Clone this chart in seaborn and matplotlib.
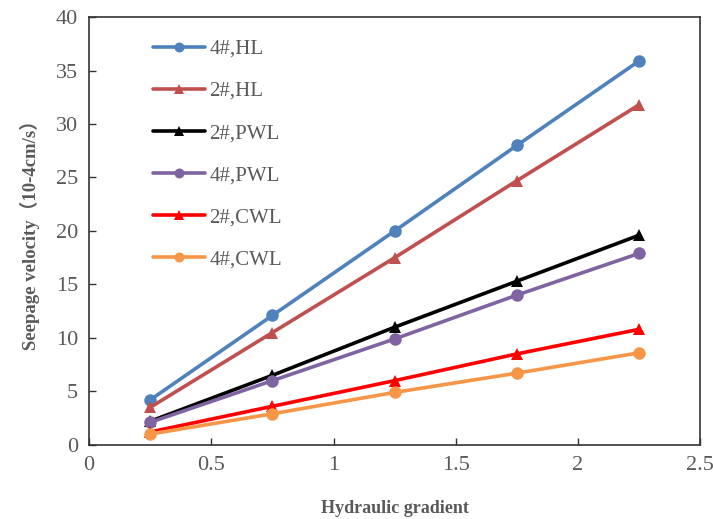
import pandas as pd
import numpy as np
import matplotlib.pyplot as plt
import seaborn as sns

gradient = [0.25, 0.75, 1.25, 1.75, 2.25]
series_names = ["4#,HL", "2#,HL", "2#,PWL", "4#,PWL", "2#,CWL", "4#,CWL"]
v_4_hl = [4.2, 12.1, 20.0, 28.0, 35.9]
v_2_hl = [3.5, 10.5, 17.5, 24.7, 31.8]
v_2_pwl = [2.2, 6.5, 11.0, 15.3, 19.6]
v_4_pwl = [2.1, 6.0, 9.9, 14.0, 17.9]
v_2_cwl = [1.2, 3.6, 6.0, 8.5, 10.8]
v_4_cwl = [1.0, 2.9, 4.9, 6.7, 8.6]

values = [v_4_hl, v_2_hl, v_2_pwl, v_4_pwl, v_2_cwl, v_4_cwl]
colors = ["#4F81BD", "#C0504D", "#000000", "#8064A2", "#FF0000", "#F79646"]
markers = ["o", "^", "^", "o", "^", "o"]

rows = []
for name, vals in zip(series_names, values):
    for x, y in zip(gradient, vals):
        rows.append({"gradient": x, "velocity": y, "series": name})
df = pd.DataFrame(rows)

sns.set_theme(style="white")
plt.rcParams["font.family"] = ["Liberation Serif", "Noto Sans CJK SC"]
grey = "#595959"

fig = plt.figure(figsize=(7.13, 5.19), dpi=100)
ax = fig.add_axes([0.125, 0.143, 0.857, 0.824])

sns.lineplot(data=df, x="gradient", y="velocity", hue="series", style="series",
             hue_order=series_names, style_order=series_names,
             palette=dict(zip(series_names, colors)),
             markers=dict(zip(series_names, markers)), dashes=False,
             linewidth=2.6, markersize=9, markeredgewidth=0, ax=ax)

ax.set_xlim(0, 2.5)
ax.set_ylim(0, 40)
ax.set_xticks(np.arange(0, 2.51, 0.5))
ax.set_xticklabels(["0", "0.5", "1", "1.5", "2", "2.5"])
ax.set_yticks(np.arange(0, 41, 5))
ax.tick_params(direction="in", length=5, width=1, colors="#333333",
               labelcolor=grey, labelsize=16, pad=8)
ax.tick_params(axis="x", top=False, bottom=True)
ax.tick_params(axis="y", left=True, right=False)
for s in ax.spines.values():
    s.set_color("#333333")
    s.set_linewidth(1.2)

ax.set_xlabel("Hydraulic gradient", fontsize=13, fontweight="bold", color=grey, labelpad=18)
ax.set_ylabel("Seepage velocity（10-4cm/s）", fontsize=13.5, fontweight="bold", color=grey, labelpad=11)

leg = ax.legend(loc="upper left", bbox_to_anchor=(0.105, 0.948), frameon=False,
                fontsize=15, labelspacing=1.08, handlelength=2.5, handletextpad=0.2,
                borderpad=0, borderaxespad=0, markerscale=0.8)
for t in leg.get_texts():
    t.set_color(grey)

fig.savefig("out.png", dpi=100)
